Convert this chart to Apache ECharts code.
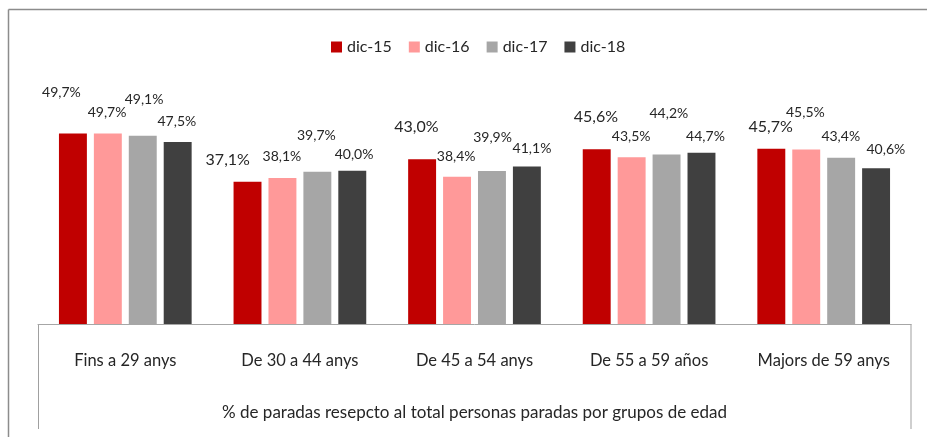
<!DOCTYPE html>
<html>
<head>
<meta charset="utf-8">
<script src="https://cdn.jsdelivr.net/npm/echarts@6/dist/echarts.min.js"></script>
<style>
  html, body { margin: 0; padding: 0; background: #fff; }
  #chart { width: 927px; height: 437px; }
</style>
</head>
<body>
<div id="chart"></div>
<script>
const categories = ['Fins a 29 anys', 'De 30 a 44 anys', 'De 45 a 54 anys', 'De 55 a 59 años', 'Majors de 59 anys']
const seriesNames = ['dic-15', 'dic-16', 'dic-17', 'dic-18']
const dic15 = [49.7, 37.1, 43.0, 45.6, 45.7]
const dic16 = [49.7, 38.1, 38.4, 43.5, 45.5]
const dic17 = [49.1, 39.7, 39.9, 44.2, 43.4]
const dic18 = [47.5, 40.0, 41.1, 44.7, 40.6]
const axisTitle = '% de paradas resepcto al total personas paradas por grupos de edad'

const colors = ['#c00000', '#ff9999', '#a6a6a6', '#404040']

// label nudges (Excel had them dragged around by hand)
const labelOffsets = [
  [[-11.5, -33.8], [-19.8, -13.8], [-5.7, -24.5], [-0.8, -24.5], [-0.7, -14.1]],
  [[-0.8, -13.8], [-0.5, -14.3], [-0.9, -13.1], [-0.5, -13.6], [-0.9, -30.3]],
  [[1.3, -28.8], [-1, -29.8], [0.6, -26.4], [2.3, -34.3], [-0.4, -13.9]],
  [[-0.8, -13.2], [1.8, -8.7], [5.1, -10.5], [4, -9], [9.8, -11.4]]
]
const labelSizes = [
  [14, 16, 16, 16, 16],
  [14, 14, 14, 14, 14],
  [14, 14, 14, 14, 14],
  [14, 14, 14, 14, 14]
]

const font = 'Lato, "Open Sans", sans-serif'
const allValues = [dic15, dic16, dic17, dic18]

function fmt(v) {
  return v.toFixed(1).replace('.', ',') + '%'
}

const chart = echarts.init(document.getElementById('chart'))

chart.setOption({
  animation: false,
  textStyle: { fontFamily: font },
  legend: {
    data: seriesNames,
    left: 326,
    top: 34,
    icon: 'rect',
    itemWidth: 11,
    itemHeight: 11,
    itemGap: 17,
    textStyle: { fontSize: 16, color: '#262626', fontFamily: font }
  },
  grid: { left: 38, right: 16, top: 94, bottom: 113 },
  xAxis: {
    type: 'category',
    data: categories,
    axisLine: { lineStyle: { color: '#a6a6a6', width: 1 } },
    axisTick: { show: false },
    axisLabel: { fontSize: 16.5, color: '#262626', margin: 28, fontFamily: font },
    name: axisTitle,
    nameLocation: 'middle',
    nameGap: 80,
    nameTextStyle: { fontSize: 17, color: '#262626', fontFamily: font }
  },
  yAxis: {
    type: 'value',
    min: 0,
    max: 60,
    show: false,
    splitLine: { show: false }
  },
  series: seriesNames.map((name, i) => ({
    name: name,
    type: 'bar',
    barCategoryGap: '24%',
    barGap: '25%',
    itemStyle: { color: colors[i] },
    label: {
      show: true,
      position: 'top',
      distance: 0,
      color: '#262626',
      fontFamily: font,
      formatter: p => fmt(p.value)
    },
    data: allValues[i].map((v, j) => ({
      value: v,
      label: { offset: labelOffsets[i][j], fontSize: labelSizes[i][j] }
    }))
  })),
  graphic: [
    { type: 'line', shape: { x1: 8.5, y1: 9.5, x2: 927, y2: 9.5 }, style: { stroke: '#8c8c8c', lineWidth: 1.5 } },
    { type: 'line', shape: { x1: 8.5, y1: 9.5, x2: 8.5, y2: 437 }, style: { stroke: '#8c8c8c', lineWidth: 1.5 } },
    { type: 'line', shape: { x1: 38.5, y1: 324, x2: 38.5, y2: 429 }, style: { stroke: '#a0a0a0', lineWidth: 1 } },
    { type: 'line', shape: { x1: 911, y1: 324, x2: 911, y2: 429 }, style: { stroke: '#bfbfbf', lineWidth: 1.5 } }
  ]
})
</script>
</body>
</html>
